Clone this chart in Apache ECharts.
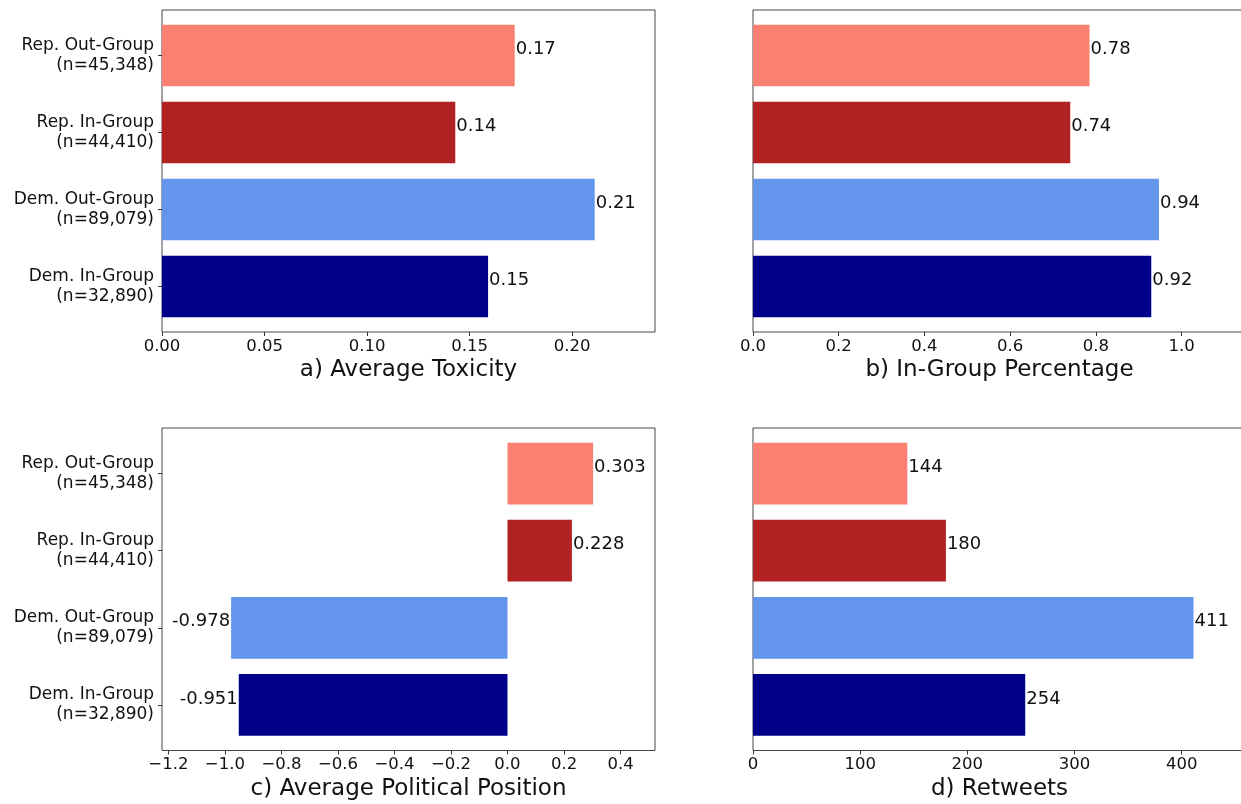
<!DOCTYPE html>
<html>
<head>
<meta charset="utf-8">
<script src="https://cdn.jsdelivr.net/npm/echarts@6/dist/echarts.min.js"></script>
<style>
  html, body { margin: 0; padding: 0; background: #fff; }
  #chart { width: 1241px; height: 804px; }
</style>
</head>
<body>
<div id="chart"></div>
<script>
// Groups, listed bottom to top
const categories = [
  'Dem. In-Group\n(n=32,890)',
  'Dem. Out-Group\n(n=89,079)',
  'Rep. In-Group\n(n=44,410)',
  'Rep. Out-Group\n(n=45,348)'
];
const barColors = ['#00008B', '#6495ED', '#B22222', '#FA8072'];

// Values per panel (same group order)
const toxicity = [0.159, 0.211, 0.143, 0.172];
const inGroupPct = [0.929, 0.947, 0.740, 0.785];
const politicalPos = [-0.951, -0.978, 0.228, 0.303];
const retweets = [254, 411, 180, 144];

// Tick values per panel
const ticksA = [0, 0.05, 0.10, 0.15, 0.20];
const ticksB = [0, 0.2, 0.4, 0.6, 0.8, 1.0];
const ticksC = [-1.2, -1.0, -0.8, -0.6, -0.4, -0.2, 0, 0.2, 0.4];
const ticksD = [0, 100, 200, 300, 400];

const titles = ['a) Average Toxicity', 'b) In-Group Percentage', 'c) Average Political Position', 'd) Retweets'];

const FONT = '"DejaVu Sans", sans-serif';
const TEXT = '#111';

// Panel frames (axes boxes)
const frames = [
  { left: 162, top: 10, width: 493, height: 322 },
  { left: 753, top: 10, width: 493, height: 322 },
  { left: 162, top: 428, width: 493, height: 322.5 },
  { left: 753, top: 428, width: 493, height: 322.5 }
];
// Category slots leave a margin at top and bottom of each frame
const ySpan = 4.18;

const panels = [
  { values: toxicity, ticks: ticksA, min: 0, max: 0.2404,
    tickFmt: v => v.toFixed(2),
    valFmt: v => (Math.floor(v * 100 + 1e-9) / 100).toFixed(2), showY: true },
  { values: inGroupPct, ticks: ticksB, min: 0, max: 1.150,
    tickFmt: v => v.toFixed(1),
    valFmt: v => (Math.floor(v * 100 + 1e-9) / 100).toFixed(2), showY: false },
  { values: politicalPos, ticks: ticksC, min: -1.2226, max: 0.522,
    tickFmt: v => v.toFixed(1).replace('-', '\u2212'),
    valFmt: v => v.toFixed(3), showY: true },
  { values: retweets, ticks: ticksD, min: 0, max: 460,
    tickFmt: v => String(Math.round(v)),
    valFmt: v => String(v), showY: false }
];

const grid = [], xAxis = [], yAxis = [], series = [];

frames.forEach((f, i) => {
  grid.push({ left: f.left, top: f.top, width: f.width, height: f.height,
    outerBoundsMode: 'none', containLabel: false,
    show: true, borderColor: '#444', borderWidth: 1, backgroundColor: 'transparent' });
  xAxis.push({ gridIndex: i, type: 'value', show: false, min: 0, max: 1 });
  yAxis.push({ gridIndex: i, type: 'value', show: false, min: 0, max: 1 });
});

panels.forEach((p, i) => {
  const f = frames[i];
  const unit = f.height / ySpan;
  const pad = (0.59 - 0.5) * unit;
  const gi = 4 + i;
  grid.push({ left: f.left, top: f.top + pad, width: f.width, height: f.height - 2 * pad,
    outerBoundsMode: 'none', containLabel: false });
  xAxis.push({
    gridIndex: gi, type: 'value', min: p.min, max: p.max,
    offset: pad,
    splitLine: { show: false },
    axisLine: { show: false, onZero: false },
    axisTick: { show: true, length: 4, inside: false, customValues: p.ticks,
      lineStyle: { color: '#333', width: 1 } },
    axisLabel: { show: true, customValues: p.ticks, formatter: p.tickFmt, margin: 6,
      fontFamily: FONT, fontSize: 16.5, color: TEXT },
    name: titles[i], nameLocation: 'middle', nameGap: 27,
    nameTextStyle: { fontFamily: FONT, fontSize: 23, color: TEXT }
  });
  yAxis.push({
    gridIndex: gi, type: 'category', data: categories,
    axisLine: { show: false, onZero: false },
    axisTick: { show: p.showY, length: 4, alignWithLabel: true, lineStyle: { color: '#333' } },
    axisLabel: { show: p.showY, margin: 8, fontFamily: FONT, fontSize: 17, lineHeight: 20,
      color: TEXT, align: 'right', padding: [10, 0, 0, 0] },
    splitLine: { show: false }
  });
  series.push({
    type: 'bar', xAxisIndex: gi, yAxisIndex: gi,
    barWidth: 0.8 * unit,
    silent: true,
    animation: false,
    data: p.values.map((v, k) => ({
      value: v,
      itemStyle: { color: barColors[k] },
      label: {
        show: true,
        position: v < 0 ? 'left' : 'right',
        distance: 1,
        offset: [0, -6],
        formatter: () => p.valFmt(v),
        fontFamily: FONT, fontSize: 18, color: TEXT
      }
    }))
  });
});

const chart = echarts.init(document.getElementById('chart'), null, { renderer: 'canvas' });
chart.setOption({
  animation: false,
  backgroundColor: '#fff',
  grid, xAxis, yAxis, series
});
</script>
</body>
</html>
